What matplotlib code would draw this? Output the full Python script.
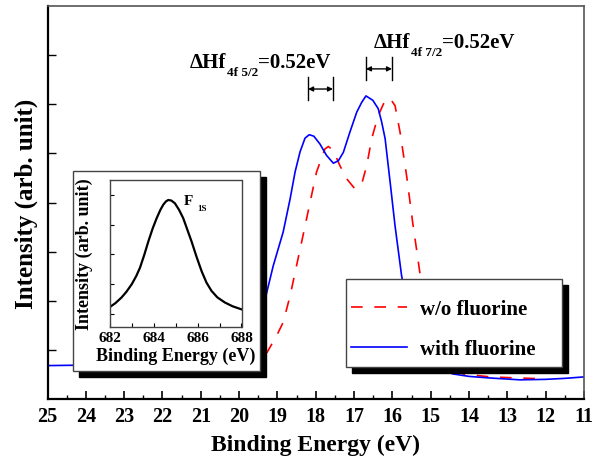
import matplotlib
matplotlib.use("Agg")
import matplotlib.pyplot as plt
import numpy as np
from matplotlib.patches import Rectangle

plt.rcParams['font.family'] = ['Liberation Serif', 'DejaVu Serif']
plt.rcParams['font.weight'] = 'bold'
plt.rcParams['axes.labelweight'] = 'bold'

# Hf 4f valence band spectra
with_x = [25.0, 24.0, 23.0, 22.0, 21.0, 20.5, 20.0, 19.7, 19.5, 19.3, 19.11, 18.85, 18.67,
          18.54, 18.41, 18.28, 18.17, 18.05, 17.89, 17.72, 17.54, 17.41, 17.28, 17.11,
          16.93, 16.80, 16.69, 16.51, 16.37, 16.28, 16.19, 16.06, 15.93, 15.76,
          15.5, 15.2, 14.9, 14.42, 14.0, 13.5, 12.67, 12.0, 11.5, 11.0]
with_y = [0.68, 0.69, 0.70, 0.72, 0.76, 0.85, 1.10, 1.45, 1.75, 2.10, 2.71, 3.40, 4.07,
          4.62, 5.03, 5.31, 5.38, 5.35, 5.19, 4.96, 4.80, 4.85, 5.02, 5.43,
          5.84, 6.04, 6.17, 6.08, 5.91, 5.64, 5.30, 4.42, 3.52, 2.51,
          1.50, 0.90, 0.65, 0.51, 0.46, 0.43, 0.39, 0.40, 0.42, 0.45]

wo_x = [23.5, 22.0, 21.0, 20.5, 20.0, 19.6, 19.27, 19.02, 18.85, 18.67, 18.37, 18.28,
        17.98, 17.76, 17.67, 17.54, 17.37, 17.19, 16.98, 16.80, 16.67, 16.54, 16.37,
        16.19, 16.06, 15.93, 15.80, 15.63, 15.46, 15.37, 15.26,
        15.0, 14.7, 14.3, 14.16, 13.45, 12.8, 12.02]
wo_y = [0.66, 0.66, 0.66, 0.67, 0.70, 0.78, 0.95, 1.29, 1.56, 2.10, 3.19, 3.52,
        4.62, 5.09, 5.14, 5.06, 4.75, 4.48, 4.28, 4.38, 4.75, 5.30, 5.77,
        6.08, 6.12, 5.97, 5.43, 4.55, 3.53, 3.05, 2.44,
        1.30, 0.85, 0.58, 0.51, 0.45, 0.43, 0.41]

# F 1s inset
f1s_x = [682.0, 682.25, 682.53, 682.75, 682.99, 683.2, 683.37, 683.56, 683.75, 683.95,
         684.13, 684.3, 684.43, 684.55, 684.66, 684.8, 684.96, 685.15, 685.34, 685.52,
         685.72, 685.95, 686.18, 686.4, 686.63, 686.9, 687.24, 687.6, 688.0]
f1s_y = [1.24, 1.37, 1.56, 1.75, 2.00, 2.28, 2.56, 2.98, 3.44, 3.88,
         4.22, 4.50, 4.67, 4.78, 4.83, 4.81, 4.72, 4.50, 4.22, 3.85,
         3.44, 2.92, 2.44, 2.06, 1.78, 1.56, 1.39, 1.26, 1.16]

W, H = 603, 464
fig = plt.figure(figsize=(W / 100, H / 100), dpi=100)


def fbox(x0, y0, x1, y1):
    # pixel box (top-left origin) -> figure fraction rect
    return (x0 / W, 1 - y1 / H, (x1 - x0) / W, (y1 - y0) / H)


ax = fig.add_axes(fbox(47.5, 7, 584, 400))
ax.set_zorder(0)
ax.plot(wo_x, wo_y, color='red', lw=1.2, ls=(0, (7, 7)), label='w/o fluorine')
ax.plot(with_x, with_y, color='blue', lw=1.2, label='with fluorine')
ax.set_xlim(25, 11)
ax.set_ylim(0, 8)
ax.set_xticks(np.arange(11, 26, 1))
ax.set_xticks(np.arange(11.5, 25, 1), minor=True)
ax.set_yticks(np.arange(1, 8))
ax.tick_params(axis='x', which='major', direction='in', length=6, width=1.2,
               labelsize=14.5, pad=5, top=False)
ax.tick_params(axis='x', which='minor', direction='in', length=3, width=1.0, top=False)
ax.tick_params(axis='y', which='major', direction='in', length=6, width=1.0,
               labelleft=False, right=False)
for s in ['left', 'bottom']:
    ax.spines[s].set_linewidth(1.6)
for s in ['top', 'right']:
    ax.spines[s].set_linewidth(1.2)
    ax.spines[s].set_color('#555555')
ax.set_xlabel('Binding Energy (eV)', fontsize=17, labelpad=6)
ax.set_ylabel('Intensity (arb. unit)', fontsize=18, labelpad=7)

# delta annotations
def delta_label(x, y, sub):
    t1 = ax.text(x, y, 'ΔHf', fontsize=15, va='baseline', ha='left')
    t2 = ax.annotate(sub, xy=(1, 0), xycoords=t1, xytext=(0.5, -2.5),
                     textcoords='offset points', fontsize=9.5, va='baseline')
    ax.annotate('=0.52eV', xy=(1, 0), xycoords=(t2, t1), fontsize=15, va='bottom')


def bracket(xa, xb, ylo, yhi, ymid):
    ax.plot([xa, xa], [ylo, yhi], color='k', lw=1.0)
    ax.plot([xb, xb], [ylo, yhi], color='k', lw=1.0)
    ax.annotate('', xy=(xa, ymid), xytext=(xb, ymid),
                arrowprops=dict(arrowstyle='<|-|>', color='k', lw=1.0,
                                mutation_scale=7, shrinkA=0, shrinkB=0))


delta_label(21.28, 6.76, '4f 5/2')
bracket(18.20, 17.55, 6.09, 6.56, 6.31)
delta_label(16.48, 7.17, '4f 7/2')
bracket(16.69, 16.01, 6.50, 6.97, 6.72)

# inset frame with black shadow
fig.add_artist(Rectangle(fbox(79, 178, 266, 378)[:2], 187 / W, 200 / H,
                         transform=fig.transFigure, facecolor='black',
                         edgecolor='black', zorder=1))
fig.add_artist(Rectangle(fbox(73, 172, 260, 372)[:2], 187 / W, 200 / H,
                         transform=fig.transFigure, facecolor='white',
                         edgecolor='#444444', lw=1.0, zorder=1.1))

ins = fig.add_axes(fbox(110, 181, 241.5, 328))
ins.set_zorder(2)
ins.plot(f1s_x, f1s_y, color='black', lw=1.6)
ins.set_xlim(682, 688)
ins.set_ylim(0.567, 5.5)
ins.set_xticks([682, 684, 686, 688])
ins.set_xticks([683, 685, 687], minor=True)
ins.set_yticks([1, 2, 3, 4, 5])
ins.tick_params(axis='both', which='both', direction='in', length=3, width=0.8,
                labelsize=11, pad=3)
ins.tick_params(axis='y', labelleft=False)
for s in ins.spines.values():
    s.set_color('#444444')
    s.set_linewidth(1.0)
ins.set_xlabel('Binding Energy (eV)', fontsize=13, labelpad=2)
ins.set_ylabel('Intensity (arb. unit)', fontsize=13, labelpad=12)
tf = ins.text(685.37, 4.7, 'F', fontsize=11, va='baseline')
ins.annotate('1S', xy=(1, 0), xycoords=tf, xytext=(3, -2.5),
             textcoords='offset points', fontsize=6.5, va='baseline')

# legend frame with black shadow
fig.add_artist(Rectangle(fbox(352, 286, 568, 374)[:2], 216 / W, 88 / H,
                         transform=fig.transFigure, facecolor='black',
                         edgecolor='black', zorder=1))
fig.add_artist(Rectangle(fbox(346, 280, 562, 368)[:2], 216 / W, 88 / H,
                         transform=fig.transFigure, facecolor='white',
                         edgecolor='#444444', lw=1.0, zorder=1.1))
h, l = ax.get_legend_handles_labels()
leg = fig.legend(h, l, loc='upper left', bbox_to_anchor=(351 / W, 1 - 300 / H),
                 frameon=False, borderpad=0, borderaxespad=0, fontsize=15,
                 handlelength=2.7, handletextpad=0.6, labelspacing=0.95)
leg.set_zorder(3)

fig.savefig('out.png', dpi=100)
